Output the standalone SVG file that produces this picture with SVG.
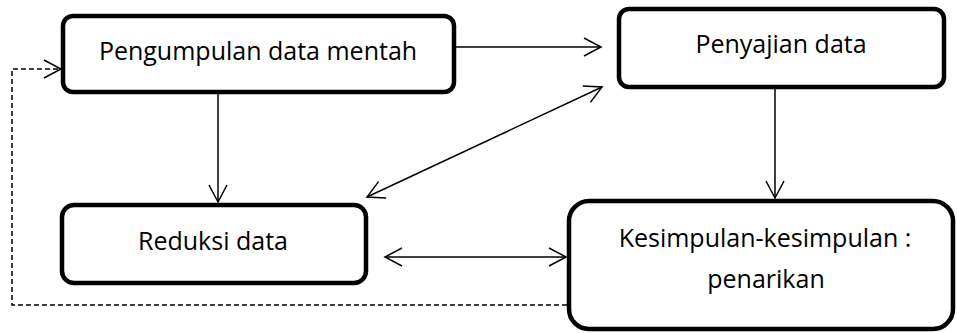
<svg xmlns="http://www.w3.org/2000/svg" width="957" height="333" viewBox="0 0 957 333">
  <style>
    .box { fill: #ffffff; stroke: #000000; stroke-width: 4.5; }
    .lbl { font-family: "Open Sans", "Noto Sans", "Liberation Sans", sans-serif; font-size: 25px; fill: #000000; text-anchor: middle; }
    .edge { fill: none; stroke: #000000; stroke-width: 1.5; }
    .dash { stroke-dasharray: 5 3; }
  </style>
  <defs>
    <marker id="head" viewBox="0 0 20 20" refX="18" refY="10" markerWidth="20" markerHeight="20" markerUnits="userSpaceOnUse" orient="auto-start-reverse">
      <path d="M1,1 L18,10 L1,19" fill="none" stroke="#000000" stroke-width="1.5"/>
    </marker>
  </defs>

  <g id="connectors">
    <!-- collection to display -->
    <line class="edge" x1="455" y1="47" x2="601" y2="47" marker-end="url(#head)"/>
    <!-- collection to reduction -->
    <line class="edge" x1="218" y1="93" x2="218" y2="202" marker-end="url(#head)"/>
    <!-- reduction <-> display -->
    <line class="edge" x1="367" y1="197" x2="602" y2="87" marker-start="url(#head)" marker-end="url(#head)"/>
    <!-- display to conclusions -->
    <line class="edge" x1="775" y1="88" x2="775" y2="198" marker-end="url(#head)"/>
    <!-- reduction <-> conclusions -->
    <line class="edge" x1="385" y1="257" x2="566" y2="257" marker-start="url(#head)" marker-end="url(#head)"/>
    <!-- feedback loop back to collection -->
    <path class="edge dash" d="M567,305 H12 V69 H61" marker-end="url(#head)"/>
  </g>

  <g id="node-pengumpulan">
    <rect class="box" x="63" y="16" width="391" height="76" rx="10"/>
    <text class="lbl" x="258" y="60">Pengumpulan data mentah</text>
  </g>

  <g id="node-penyajian">
    <rect class="box" x="619" y="9" width="325" height="78" rx="10"/>
    <text class="lbl" x="781" y="53">Penyajian data</text>
  </g>

  <g id="node-reduksi">
    <rect class="box" x="62" y="205" width="304" height="78" rx="12"/>
    <text class="lbl" x="213" y="250">Reduksi data</text>
  </g>

  <g id="node-kesimpulan">
    <rect class="box" x="569" y="201" width="384" height="128" rx="20"/>
    <text class="lbl" x="765" y="247">Kesimpulan-kesimpulan :</text>
    <text class="lbl" x="766" y="288">penarikan</text>
  </g>
</svg>
